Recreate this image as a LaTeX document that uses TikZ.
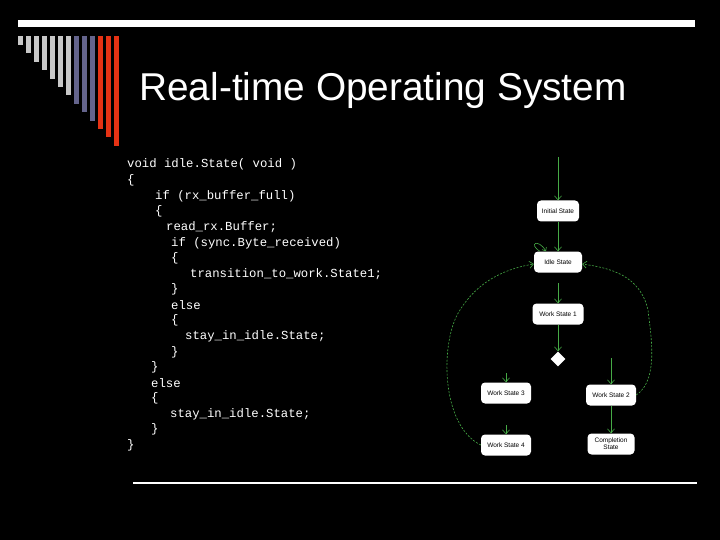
\documentclass[tikz,border=0pt]{standalone}
\usepackage{fontspec}
\setmainfont{Liberation Sans}
\newfontfamily\codefont{Liberation Mono}
\usetikzlibrary{shapes.geometric,arrows.meta}
\definecolor{gr}{RGB}{70,170,70}
\definecolor{barg}{RGB}{200,200,200}
\definecolor{barb}{RGB}{100,100,140}
\definecolor{barr}{RGB}{230,50,20}
\begin{document}
\begin{tikzpicture}[x=1pt,y=-1pt,
 st/.style={draw=none,fill=white,rounded corners=4pt,minimum height=21pt,font=\fontsize{6.5}{7}\selectfont,align=center,inner sep=1pt},
 ar/.style={draw=gr,-{Straight Barb[length=4pt,width=7pt]},line width=0.6pt},
 da/.style={ar,dash pattern=on 2pt off 1.5pt},
 cl/.style={anchor=west,text=white,font=\codefont\fontsize{12.3}{14}\selectfont,inner sep=0pt}]
\fill[black] (0,0) rectangle (720,540);
\useasboundingbox (0,0) rectangle (720,540);
\fill[white] (18,20) rectangle (695,27);
\foreach \i/\c in {0/barg,1/barg,2/barg,3/barg,4/barg,5/barg,6/barg,7/barb,8/barb,9/barb,10/barr,11/barr,12/barr}
  \fill[\c] (18+8*\i,36) rectangle (23+8*\i,45+8.4*\i);
\fill[white] (133,482) rectangle (697,484);
\node[text=white,font=\fontsize{38.8}{44}\selectfont] (title) at (383,90) {Real-time Operating System};
\node[cl] (c1) at (127,164) {void idle.State( void )};
\node[cl] (c2) at (127,180) {\{};
\node[cl] (c3) at (155,196) {if (rx\_buffer\_full)};
\node[cl] (c4) at (155,211) {\{};
\node[cl] (c5) at (166,227) {read\_rx.Buffer;};
\node[cl] (c6) at (171,243) {if (sync.Byte\_received)};
\node[cl] (c7) at (171,258) {\{};
\node[cl] (c8) at (190,274) {transition\_to\_work.State1;};
\node[cl] (c9) at (171,289) {\}};
\node[cl] (c10) at (171,305) {else};
\node[cl] (c11) at (171,320) {\{};
\node[cl] (c12) at (185,336) {stay\_in\_idle.State;};
\node[cl] (c13) at (171,352) {\}};
\node[cl] (c14) at (151,367) {\}};
\node[cl] (c15) at (151,383) {else};
\node[cl] (c16) at (151,398) {\{};
\node[cl] (c17) at (170,414) {stay\_in\_idle.State;};
\node[cl] (c18) at (151,429) {\}};
\node[cl] (c19) at (127,445) {\}};
% diagram
\node[st,minimum width=42pt] (init) at (558,211) {Initial State};
\node[st,minimum width=48pt] (idle) at (558,262) {Idle State};
\node[st,minimum width=51pt] (w1) at (558,314) {Work State 1};
\node[diamond,fill=white,minimum size=15pt,inner sep=0pt] (dec) at (558,359) {};
\node[st,minimum width=50pt] (w3) at (506,393) {Work State 3};
\node[st,minimum width=50pt] (w2) at (611,395) {Work State 2};
\node[st,minimum width=50pt] (w4) at (506,445) {Work State 4};
\node[st,minimum width=47pt] (comp) at (611,444) {Completion\\State};
\coordinate (s0) at (558,157);
\coordinate (s3) at (506,373);
\coordinate (s2) at (611,358);
\coordinate (s4) at (506,425);
\coordinate (s1) at (558,283);
\draw[ar] (s0) -- (init);
\draw[ar] (init) -- (idle);
\draw[ar] (s1) -- (w1);
\draw[ar] (w1) -- (dec);
\draw[ar] (s3) -- (w3);
\draw[ar] (s2) -- (w2);
\draw[ar] (w2) -- (comp);
\draw[ar] (s4) -- (w4);
\draw[gr,line width=0.6pt,-{Straight Barb[length=3pt,width=5pt]}] ([xshift=-18pt]idle.north) .. controls (528,244) and (538,238) .. ([xshift=-12pt]idle.north);
\draw[da] (w4.west) .. controls (440,425) and (440,340) .. (460,310) .. controls (480,278) and (510,268) .. ([yshift=-2pt]idle.west);
\draw[da] (w2.east) .. controls (660,380) and (650,330) .. (648,310) .. controls (640,275) and (610,268) .. ([yshift=-2pt]idle.east);
\end{tikzpicture}
\end{document}
